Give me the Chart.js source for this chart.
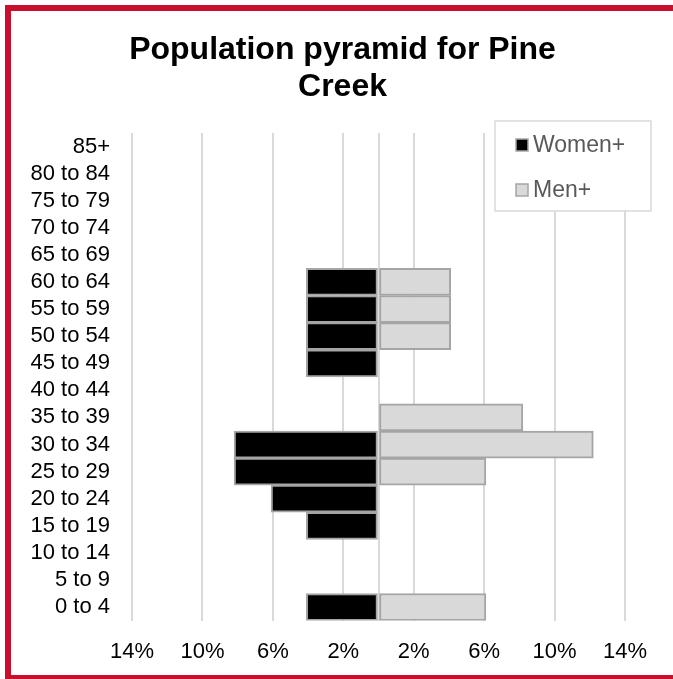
<!DOCTYPE html>
<html>
<head>
<meta charset="utf-8">
<script src="https://cdn.jsdelivr.net/npm/chart.js@4.4.1/dist/chart.umd.min.js"></script>
<style>
    html, body { margin: 0; padding: 0; background: #ffffff; overflow: hidden; }
    #frame {
        position: absolute; left: 5px; top: 5px;
        width: 720px; height: 664px;
        border: 6px solid #C8102E;
    }
    #wrap { position: absolute; left: 0; top: 0; width: 673px; height: 679px; }
</style>
</head>
<body>
<div id="frame"></div>
<div id="wrap"><canvas id="chart"></canvas></div>
<script>
// age groups, bottom to top
const AGES = [
    "0 to 4", "5 to 9", "10 to 14", "15 to 19", "20 to 24", "25 to 29",
    "30 to 34", "35 to 39", "40 to 44", "45 to 49", "50 to 54", "55 to 59",
    "60 to 64", "65 to 69", "70 to 74", "75 to 79", "80 to 84", "85+"
];

// share of population, percent
const WOMEN = [4.1, 0, 0, 4.1, 6.1, 8.2, 8.2, 0, 0, 4.1, 4.1, 4.1, 4.1, 0, 0, 0, 0, 0];
const MEN   = [6.1, 0, 0, 0, 0, 6.1, 12.2, 8.2, 0, 0, 4.1, 4.1, 4.1, 0, 0, 0, 0, 0];

const SERIES = ["Women+", "Men+"];
const TICKS = [-14, -10, -6, -2, 0, 2, 6, 10, 14];

const FONT = "'Liberation Sans', Arial, sans-serif";

// legend box in the top right corner of the plot
const boxLegend = {
    id: "boxLegend",
    afterDraw(chart) {
        const ctx = chart.ctx;
        const area = chart.chartArea;
        const w = 156, h = 90;
        const x = area.right + 26 - w;
        const y = area.top - 12;

        ctx.save();
        ctx.fillStyle = "#ffffff";
        ctx.fillRect(x, y, w, h);
        ctx.strokeStyle = "#D9D9D9";
        ctx.lineWidth = 1.5;
        ctx.strokeRect(x, y, w, h);

        ctx.font = "23px " + FONT;
        ctx.textBaseline = "middle";
        chart.data.datasets.forEach((ds, i) => {
            const cy = y + 24 + i * 45;
            ctx.fillStyle = ds.backgroundColor;
            ctx.fillRect(x + 21, cy - 6, 12, 12);
            ctx.strokeStyle = ds.borderColor;
            ctx.lineWidth = 1.5;
            ctx.strokeRect(x + 21, cy - 6, 12, 12);
            ctx.fillStyle = "#595959";
            ctx.fillText(ds.label, x + 38, cy + 1);
        });
        ctx.restore();
    }
};

new Chart(document.getElementById("chart"), {
    type: "bar",
    data: {
        labels: AGES,
        datasets: [
            {
                label: SERIES[0],
                data: WOMEN.map(v => -v),
                backgroundColor: "#000000",
                borderColor: "#A5A5A5"
            },
            {
                label: SERIES[1],
                data: MEN,
                backgroundColor: "#D9D9D9",
                borderColor: "#A5A5A5"
            }
        ]
    },
    options: {
        indexAxis: "y",
        responsive: true,
        maintainAspectRatio: false,
        animation: false,
        layout: { padding: { left: 12, right: 0, top: 0, bottom: 0 } },
        datasets: {
            bar: {
                barPercentage: 1,
                categoryPercentage: 1,
                borderWidth: 2,
                borderSkipped: false
            }
        },
        plugins: {
            legend: { display: false },
            tooltip: { enabled: false },
            title: {
                display: true,
                text: ["Population pyramid for Pine", "Creek"],
                color: "#000000",
                font: { family: FONT, size: 32, weight: "bold", lineHeight: "37px" },
                padding: { top: 32, bottom: 27 }
            }
        },
        scales: {
            x: {
                stacked: true,
                min: -14,
                max: 14,
                afterBuildTicks(scale) {
                    scale.ticks = TICKS.map(v => ({ value: v }));
                },
                // keep room on the right of the plot, pull the plot down a bit
                afterFit(scale) {
                    scale.paddingRight = 48;
                    scale.height -= 4;
                },
                grid: { color: "#D9D9D9", lineWidth: 2, drawTicks: false },
                border: { display: false },
                ticks: {
                    padding: 18,
                    color: "#000000",
                    font: { family: FONT, size: 22 },
                    callback: v => v === 0 ? "" : Math.abs(v) + "%"
                }
            },
            y: {
                stacked: true,
                reverse: true,
                afterFit(scale) { scale.width = 120; },
                grid: { display: false },
                border: { display: false },
                ticks: {
                    padding: 14,
                    color: "#000000",
                    font: { family: FONT, size: 22 },
                    autoSkip: false
                }
            }
        }
    },
    plugins: [boxLegend]
});
</script>
</body>
</html>
